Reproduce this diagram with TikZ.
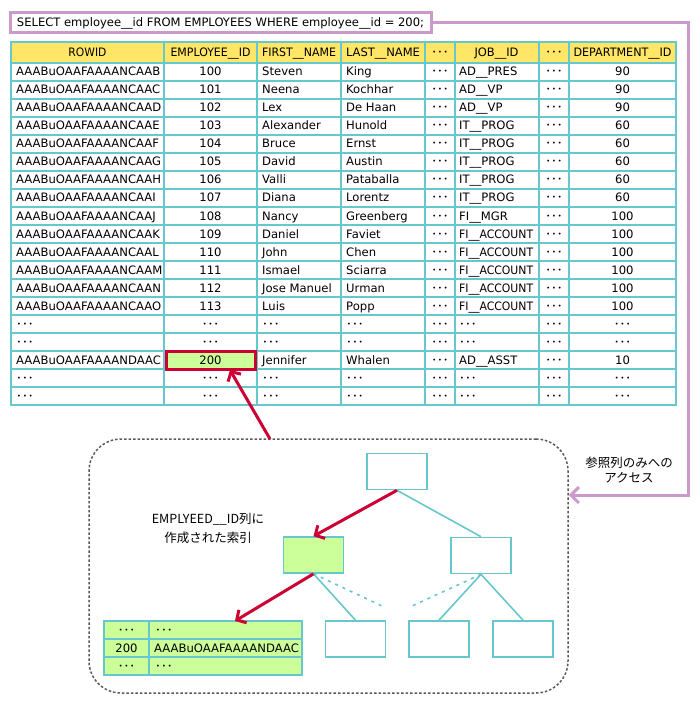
\documentclass[tikz,border=0pt]{standalone}
\usepackage{fontspec}
\usepackage{graphicx}
\setmainfont{DejaVu Sans}
\newfontfamily\jp{Noto Sans CJK JP}
\usetikzlibrary{arrows.meta}
\definecolor{tealc}{RGB}{102,200,204}
\definecolor{yelc}{RGB}{255,230,102}
\definecolor{grnc}{RGB}{204,255,153}
\definecolor{purc}{RGB}{204,153,204}
\definecolor{redc}{RGB}{204,0,51}
\definecolor{grayc}{RGB}{90,90,90}
\newcommand\dd{{\jp ･･･}}
\newcommand\fitw[2]{\resizebox{#1}{\height}{#2}}
\newcommand\acc{\fitw{74pt}{FI\_\_ACCOUNT}}
\tikzset{
  gridline/.style={draw=tealc, line width=1.6pt},
  gridouter/.style={draw=tealc, line width=2pt},
  lcell/.style={anchor=west, inner sep=0pt, text height=8pt, text depth=0pt},
  ccell/.style={anchor=center, inner sep=0pt, text height=8pt, text depth=0pt},
  sqlbox/.style={draw=purc, line width=3pt, fill=white, minimum width=421pt, minimum height=20pt, inner sep=0pt},
  hlbox/.style={draw=redc, line width=3pt, fill=grnc, minimum width=89pt, minimum height=18pt, inner sep=0pt},
  treebox/.style={draw=tealc, line width=1.6pt, fill=white, minimum width=60pt, minimum height=36pt, inner sep=0pt},
  greenbox/.style={treebox, fill=grnc},
  dbox/.style={draw=grayc, line width=1.5pt, dash pattern=on 2.5pt off 2pt, rounded corners=32pt, minimum width=479pt, minimum height=254pt, inner sep=0pt},
  redarrow/.style={draw=redc, line width=3pt, -{Straight Barb[length=7pt,width=15pt]}},
  purarrow/.style={draw=purc, line width=3pt, -{Straight Barb[length=8pt,width=16pt]}},
  tealline/.style={draw=tealc, line width=1.6pt},
  tealdot/.style={draw=tealc, line width=1.6pt, dash pattern=on 3pt off 5pt},
  label/.style={align=center, inner sep=0pt, font=\jp\fontsize{12.5}{18.5}\selectfont}
}
\begin{document}
\begin{tikzpicture}[x=1pt,y=-1pt, font=\fontsize{11.6}{13}\selectfont]
\useasboundingbox (0,0) rectangle (700,703);
\fill[white] (0,0) rectangle (700,703);

% SQL box
\node[sqlbox] (sql) at (220.5,23) {\fitw{407pt}{SELECT employee\_\_id FROM EMPLOYEES WHERE employee\_\_id = 200;}};

% table
\fill[yelc] (11,42) rectangle (676,63);
\foreach \y in {63,81,...,387} \draw[gridline] (11,\y) -- (676,\y);
\foreach \x in {164,257,341,425,455,539,569} \draw[gridline] (\x,42) -- (\x,405);
\draw[gridouter] (11,42) rectangle (676,405);
\node[hlbox] (hl) at (210.5,360) {};

\foreach \x/\w/\t/\n in {87.5/38pt/ROWID/h1, 210.5/80pt/EMPLOYEE\_\_ID/h2, 299/74pt/FIRST\_\_NAME/h3, 383/74pt/LAST\_\_NAME/h4, 496.5/44pt/JOB\_\_ID/h6, 622.5/98pt/DEPARTMENT\_\_ID/h8}
  \node[ccell] (\n) at (\x,52.5) {\fitw{\w}{\t}};
\node[ccell] (h5) at (440,52.5) {\dd};
\node[ccell] (h7) at (554,52.5) {\dd};

\foreach \i/\a/\b/\c/\d/\e/\f in {
 1/AAABuOAAFAAAANCAAB/100/Steven/King/AD\_\_PRES/90,
 2/AAABuOAAFAAAANCAAC/101/Neena/Kochhar/AD\_\_VP/90,
 3/AAABuOAAFAAAANCAAD/102/Lex/De Haan/AD\_\_VP/90,
 4/AAABuOAAFAAAANCAAE/103/Alexander/Hunold/IT\_\_PROG/60,
 5/AAABuOAAFAAAANCAAF/104/Bruce/Ernst/IT\_\_PROG/60,
 6/AAABuOAAFAAAANCAAG/105/David/Austin/IT\_\_PROG/60,
 7/AAABuOAAFAAAANCAAH/106/Valli/Pataballa/IT\_\_PROG/60,
 8/AAABuOAAFAAAANCAAI/107/Diana/Lorentz/IT\_\_PROG/60,
 9/AAABuOAAFAAAANCAAJ/108/Nancy/Greenberg/FI\_\_MGR/100,
 10/AAABuOAAFAAAANCAAK/109/Daniel/Faviet/\acc/100,
 11/AAABuOAAFAAAANCAAL/110/John/Chen/\acc/100,
 12/AAABuOAAFAAAANCAAM/111/Ismael/Sciarra/\acc/100,
 13/AAABuOAAFAAAANCAAN/112/Jose Manuel/Urman/\acc/100,
 14/AAABuOAAFAAAANCAAO/113/Luis/Popp/\acc/100,
 15/\dd/\dd/\dd/\dd/\dd/\dd,
 16/\dd/\dd/\dd/\dd/\dd/\dd,
 17/AAABuOAAFAAAANDAAC/200/Jennifer/Whalen/AD\_\_ASST/10,
 18/\dd/\dd/\dd/\dd/\dd/\dd,
 19/\dd/\dd/\dd/\dd/\dd/\dd}
{
 \pgfmathsetmacro\yc{54+18*\i}
 \node[lcell] (r\i a) at (16,\yc) {\a};
 \node[ccell] (r\i b) at (210.5,\yc) {\b};
 \node[lcell] (r\i c) at (262,\yc) {\c};
 \node[lcell] (r\i d) at (346,\yc) {\d};
 \node[ccell] (r\i e) at (440,\yc) {\dd};
 \node[lcell] (r\i f) at (459,\yc) {\e};
 \node[ccell] (r\i g) at (554,\yc) {\dd};
 \node[ccell] (r\i h) at (622.5,\yc) {\f};
}

% index box
\node[dbox] (ibox) at (328.5,566) {};

% tree
\node[treebox] (root) at (397,471.5) {};
\node[greenbox] (gm) at (313.5,555) {};
\node[treebox] (rm) at (481,555.5) {};
\node[treebox] (l1) at (355.5,639) {};
\node[treebox] (l2) at (439,639) {};
\node[treebox] (l3) at (523,639) {};

% leaf table
\node[draw=tealc, line width=1.6pt, fill=grnc, minimum width=198pt, minimum height=54pt, inner sep=0pt] (lt) at (203,648) {};
\draw[gridline] (149,621) -- (149,675);
\draw[gridline] (104,639) -- (302,639);
\draw[gridline] (104,657) -- (302,657);
\node[ccell] (lt11) at (126.5,630) {\dd};
\node[lcell] (lt12) at (155,630) {\dd};
\node[ccell] (lt21) at (126.5,648) {200};
\node[lcell] (lt22) at (154,648) {AAABuOAAFAAAANDAAC};
\node[ccell] (lt31) at (126.5,666) {\dd};
\node[lcell] (lt32) at (155,666) {\dd};

\coordinate (d1) at (382,606);
\coordinate (d2) at (412,606);
\draw[tealline] (root.south) -- (rm.north);
\draw[tealline] (gm.south) -- (l1.north);
\draw[tealline] (rm.south) -- (l2.north);
\draw[tealline] (rm.south) -- (l3.north);
\draw[tealdot] (gm.south) -- (d1);
\draw[tealdot] (rm.south) -- (d2);

\coordinate (ltin) at (235,621);
\draw[redarrow] (root.south) -- (gm.north);
\draw[redarrow] (gm.south) -- (ltin);

\coordinate (a0) at (270,439);
\coordinate (a1) at (230,370);
\draw[redarrow] (a0) -- (a1);

% labels
\node[label] (lab1) at (208,528.5) {EMPLYEED\_\_ID列に\\作成された索引};
\node[label, font=\jp\fontsize{12.5}{14.5}\selectfont] (lab2) at (629,470) {参照列のみへの\\アクセス};

% purple connector
\coordinate (pc) at (688,495);
\draw[purarrow] (sql.east) -| (pc) -- (ibox.east |- pc);
\end{tikzpicture}
\end{document}
